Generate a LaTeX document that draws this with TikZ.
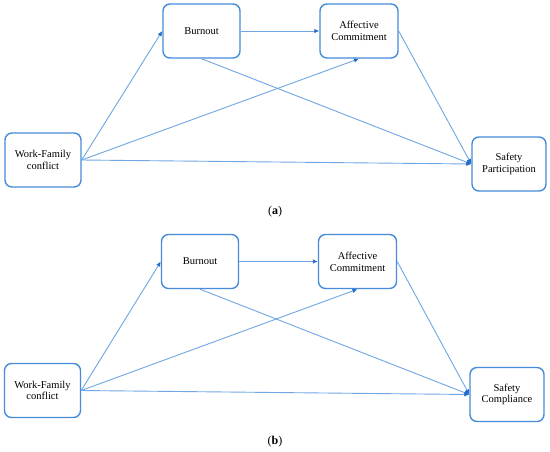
\documentclass[tikz,border=0pt]{standalone}
\usepackage{fontspec}
\setmainfont{Liberation Serif}
\usetikzlibrary{arrows.meta}
\definecolor{boxblue}{RGB}{70,140,218}
\definecolor{lineblue}{RGB}{112,166,226}
\definecolor{tipblue}{RGB}{36,108,200}
\tikzset{
  construct/.style={draw=boxblue,line width=1.4pt,fill=white,rounded corners=7pt,
                    minimum width=77pt,minimum height=54pt,inner sep=2pt,align=center,
                    font=\fontsize{10.5}{11.7}\selectfont},
  path/.style={lineblue,line width=0.9pt,-{Latex[length=5pt,width=4.5pt,fill=tipblue,color=tipblue]}},
  panel/.style={font=\fontsize{12}{14}\selectfont},
}
\begin{document}
\begin{tikzpicture}[x=1pt,y=-1pt]
  \path[use as bounding box,fill=white] (0,0) rectangle (550,451);

  % panel (a)
  \node[construct] (burnA) at (201.5,31) {Burnout};
  \node[construct,minimum width=78pt] (affA) at (359,31) {Affective\\Commitment};
  \node[construct,minimum width=76pt] (wfcA) at (43,160) {Work-Family\\conflict};
  \node[construct,minimum width=74pt] (partA) at (509,164) {Safety\\Participation};
  \draw[path] (wfcA.east) -- (burnA.west);
  \draw[path] (burnA.east) -- (affA.west);
  \draw[path] (burnA.south) -- (partA.west);
  \draw[path] (wfcA.east) -- (affA.south);
  \draw[path] (wfcA.east) -- (partA.west);
  \draw[path] (affA.east) -- (partA.west);
  \node[panel] (capA) at (275,212) {(\textbf{a})};

  % panel (b)
  \node[construct] (burnB) at (200,261.5) {Burnout};
  \node[construct,minimum width=78pt] (affB) at (357.5,261.5) {Affective\\Commitment};
  \node[construct,minimum width=76pt] (wfcB) at (42.5,390.5) {Work-Family\\conflict};
  \node[construct,minimum width=74pt] (compB) at (507,394.5) {Safety\\Compliance};
  \draw[path] (wfcB.east) -- (burnB.west);
  \draw[path] (burnB.east) -- (affB.west);
  \draw[path] (burnB.south) -- (compB.west);
  \draw[path] (wfcB.east) -- (affB.south);
  \draw[path] (wfcB.east) -- (compB.west);
  \draw[path] (affB.east) -- (compB.west);
  \node[panel] (capB) at (275,442) {(\textbf{b})};
\end{tikzpicture}
\end{document}
